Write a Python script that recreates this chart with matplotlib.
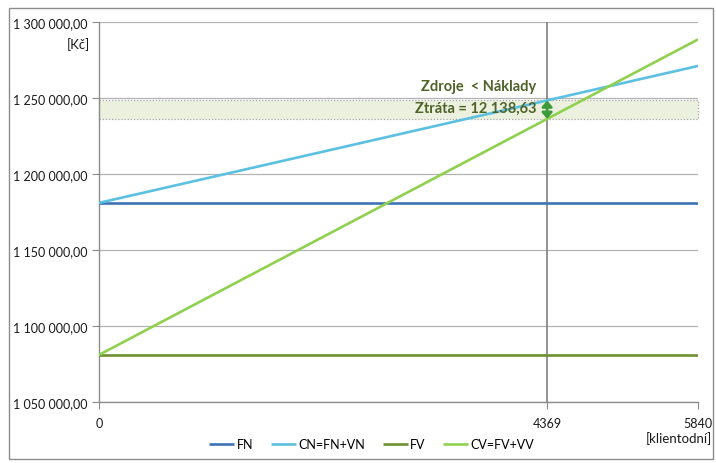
import matplotlib
matplotlib.use("Agg")
import matplotlib.pyplot as plt
from matplotlib.patches import Rectangle, FancyArrowPatch
from matplotlib.ticker import FuncFormatter

plt.rcParams['font.family'] = ['Lato', 'DejaVu Sans']

# Break-even data (output in client-days vs. costs / revenues in CZK)
x_points = [0, 4369, 5840]
fn = [1181000, 1181000, 1181000]
cn = [1181000, 1248400, 1271090]
fv = [1081000, 1081000, 1081000]
cv = [1081000, 1236261.37, 1288540]
series_labels = ["FN", "CN=FN+VN", "FV", "CV=FV+VV"]
series_colors = ["#3f73b5", "#5cc0e0", "#6f8f2e", "#8fd14f"]
x_ticks = [0, 4369, 5840]
y_ticks = [1050000, 1100000, 1150000, 1200000, 1250000, 1300000]
loss = 12138.63


def cz_number(v):
    return f"{v:,.2f}".replace(",", " ").replace(".", ",")


fig = plt.figure(figsize=(7.16, 4.64), dpi=100)
fig.patches.append(Rectangle((9 / 716, 1 - 460 / 464), 704 / 716, 451 / 464,
                             transform=fig.transFigure, fill=False,
                             edgecolor="#8c8c8c", linewidth=1.0))
ax = fig.add_axes([99 / 716, 1 - 403 / 464, 599 / 716, 380 / 464])

ax.set_xlim(0, 5840)
ax.set_ylim(1050000, 1300000)

# gap band between CN and CV at the operating point
x_op = x_points[1]
band_lo = cv[1]
band_hi = cn[1]
ax.add_patch(Rectangle((0, band_lo), 5840, band_hi - band_lo,
                       facecolor="#ebf1de", edgecolor="#a6a6a6",
                       linestyle=(0, (1, 1.5)), linewidth=0.9, zorder=1,
                       clip_on=False))

for yv in y_ticks:
    ax.axhline(yv, color="#b3b3b3", linewidth=0.9, zorder=0)

ax.axvline(x_op, color="#7f7f7f", linewidth=1.2, zorder=2)

lines = []
for vals, lab, col in zip([fn, cn, fv, cv], series_labels, series_colors):
    ln, = ax.plot(x_points, vals, color=col, linewidth=1.9, label=lab,
                  solid_capstyle="butt", zorder=3)
    lines.append(ln)

arrow = FancyArrowPatch((x_op, band_hi), (x_op, band_lo),
                        arrowstyle="<|-|>,head_length=3.5,head_width=3",
                        color="#3c9a3c", linewidth=2.0, zorder=4,
                        shrinkA=0, shrinkB=0)
ax.add_patch(arrow)

ax.text(4265, 1258000, "Zdroje  < Náklady", ha="right", va="center",
        fontsize=10.5, fontweight="bold", color="#4f6228", zorder=5)
ax.text(4265, 1243500, f"Ztráta = {cz_number(loss)}", ha="right", va="center",
        fontsize=10.5, fontweight="bold", color="#4f6228", zorder=5)

ax.set_xticks(x_ticks)
ax.set_yticks(y_ticks)
ax.yaxis.set_major_formatter(FuncFormatter(lambda v, p: cz_number(v)))
ax.tick_params(axis="both", labelsize=9, color="#8c8c8c", length=5,
               labelcolor="#1a1a1a")
ax.tick_params(axis="x", pad=6)
ax.tick_params(axis="y", pad=3)

for side in ["top", "right"]:
    ax.spines[side].set_visible(False)
for side in ["left", "bottom"]:
    ax.spines[side].set_color("#8c8c8c")
    ax.spines[side].set_linewidth(1.0)

fig.text(90 / 716, 1 - 45 / 464, "[Kč]", ha="right", va="center",
         fontsize=9.5, color="#1a1a1a")
fig.text(712 / 716, 1 - 439 / 464, "[klientodní]", ha="right", va="center",
         fontsize=9.5, color="#1a1a1a")

fig.legend(handles=lines, loc="center", bbox_to_anchor=(372 / 716, 1 - 445 / 464),
           ncol=4, frameon=False, fontsize=9, handlelength=2.0,
           columnspacing=1.4, handletextpad=0.2)

fig.savefig("out.png", dpi=100)
